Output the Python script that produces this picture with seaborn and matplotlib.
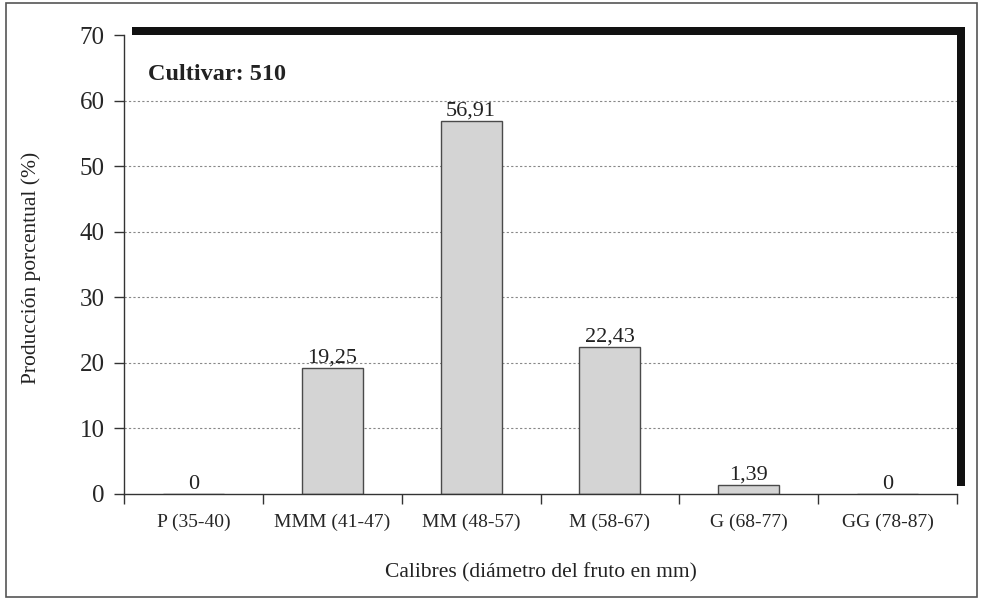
import matplotlib
matplotlib.use("Agg")
import matplotlib.pyplot as plt
from matplotlib.patches import Rectangle
import numpy as np
import pandas as pd
import seaborn as sns

categories = ["P (35-40)", "MMM (41-47)", "MM (48-57)", "M (58-67)", "G (68-77)", "GG (78-87)"]
values = [0, 19.25, 56.91, 22.43, 1.39, 0]
value_labels = ["0", "19,25", "56,91", "22,43", "1,39", "0"]
y_ticks = [0, 10, 20, 30, 40, 50, 60, 70]

df = pd.DataFrame({"calibre": categories, "pct": values})

sns.set_style("white")
plt.rcParams["font.family"] = ["Liberation Serif", "DejaVu Serif"]

W, H = 981, 606
fig = plt.figure(figsize=(W / 100, H / 100), dpi=100)

# outer frame and black shadow behind plot area
fig.add_artist(Rectangle((6 / W, 1 - 597 / H), 971 / W, 594 / H, transform=fig.transFigure,
                         fill=False, edgecolor="#555555", lw=1.2, zorder=0))
fig.add_artist(Rectangle((132 / W, 1 - 486 / H), 833 / W, 459 / H, transform=fig.transFigure,
                         facecolor="#111111", edgecolor="none", zorder=0.5))

ax = fig.add_axes([124 / W, 1 - 494 / H, 833 / W, 459 / H])
ax.set_zorder(1)
ax.set_facecolor("white")

sns.barplot(data=df, x="calibre", y="pct", color="#d4d4d4", edgecolor="#4a4a4a",
            linewidth=1.0, width=0.44, saturation=1, ax=ax)

for i, (v, lab) in enumerate(zip(values, value_labels)):
    ax.text(i, v + 0.8, lab, ha="center", va="baseline", fontsize=16, color="#222222")

ax.set_xlim(-0.5, len(categories) - 0.5)
ax.set_ylim(0, 70)
ax.set_yticks(y_ticks)
ax.set_yticklabels([str(t) for t in y_ticks], fontsize=18)
for t in y_ticks[1:-1]:
    ax.axhline(t, color="#888888", lw=0.8, ls=(0, (2, 2)), zorder=0)

ax.set_xticks(range(len(categories)))
ax.set_xticklabels(categories, fontsize=14)
ax.set_xticks(np.arange(-0.5, len(categories)), minor=True)
ax.tick_params(axis="x", which="major", bottom=True, length=0, pad=14)
ax.tick_params(axis="x", which="minor", bottom=True, length=7, width=1, color="#333333", direction="out")
ax.tick_params(axis="y", left=True, length=7, width=1, color="#333333", direction="out", pad=7)

for s in ["top", "right"]:
    ax.spines[s].set_visible(False)
for s in ["left", "bottom"]:
    ax.spines[s].set_color("#333333")
    ax.spines[s].set_linewidth(1.0)

ax.set_xlabel("")
ax.set_ylabel("")
fig.text(541 / W, 1 - 573 / H, "Calibres (diámetro del fruto en mm)", fontsize=15.5,
         ha="center", va="center", color="#222222")
fig.text(31 / W, 1 - 268 / H, "Producción porcentual (%)", fontsize=15.5, rotation=90,
         ha="center", va="center", color="#222222")

ax.text(0.029, 0.915, "Cultivar: 510", transform=ax.transAxes, fontsize=17.5,
        fontweight="bold", ha="left", va="center", color="#222222")

fig.savefig("out.png", dpi=100)
